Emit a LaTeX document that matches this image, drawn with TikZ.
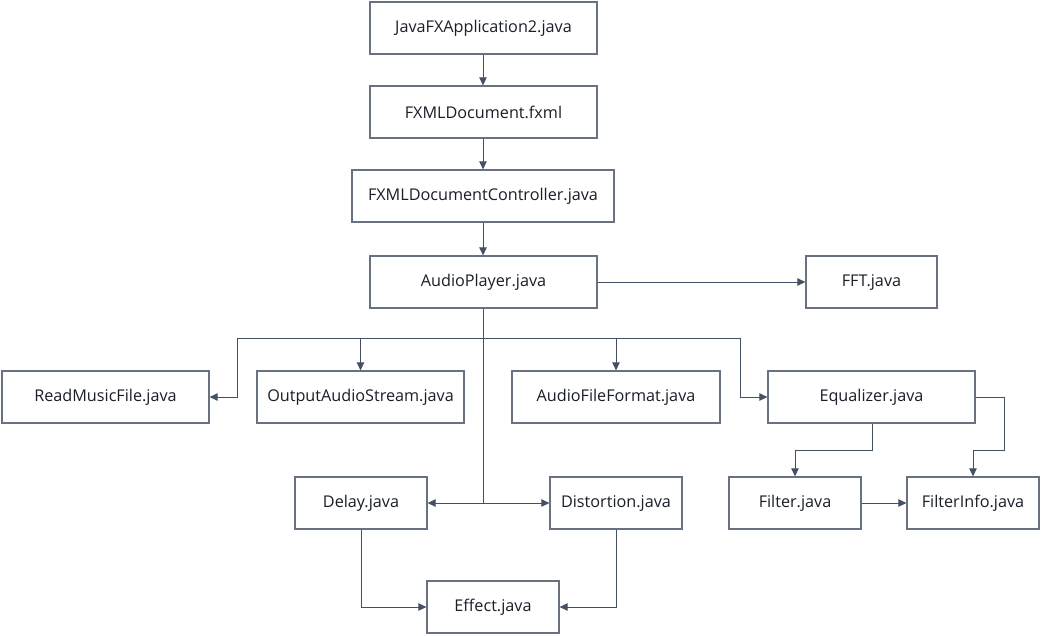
\documentclass[tikz,border=0pt]{standalone}
\usepackage{fontspec}
\setmainfont{Open Sans}
\usetikzlibrary{arrows.meta}
\definecolor{boxc}{RGB}{105,114,128}
\definecolor{linec}{RGB}{68,80,100}
\definecolor{txtc}{RGB}{25,30,40}
\begin{document}
\begin{tikzpicture}[x=1pt,y=-1pt,
  box/.style={draw=boxc, line width=1.3pt, fill=white, minimum height=52pt, inner sep=0pt, text=txtc, font=\fontsize{16.2}{19}\selectfont},
  conn/.style={draw=linec, line width=1pt},
  arr/.style={conn, -{Triangle[length=8pt,width=7.5pt]}}]
\useasboundingbox (0,0) rectangle (1041,635);
\fill[white] (0,0) rectangle (1041,635);
\node[box, minimum width=227pt] (app) at (483.5,28) {JavaFXApplication2.java};
\node[box, minimum width=227pt] (fxml) at (483.5,112) {FXMLDocument.fxml};
\node[box, minimum width=262pt] (ctrl) at (483,196) {FXMLDocumentController.java};
\node[box, minimum width=227pt] (ap) at (483.5,282) {AudioPlayer.java};
\node[box, minimum width=131pt] (fft) at (871.5,282) {FFT.java};
\node[box, minimum width=207pt] (rmf) at (105.5,397) {ReadMusicFile.java};
\node[box, minimum width=207pt] (oas) at (360.5,397) {OutputAudioStream.java};
\node[box, minimum width=208pt] (aff) at (616,397) {AudioFileFormat.java};
\node[box, minimum width=207pt] (eq) at (871.5,397) {Equalizer.java};
\node[box, minimum width=132pt] (delay) at (361,503) {Delay.java};
\node[box, minimum width=132pt] (dist) at (616,503) {Distortion.java};
\node[box, minimum width=132pt] (filter) at (795,503) {Filter.java};
\node[box, minimum width=132pt] (finfo) at (973,503) {FilterInfo.java};
\node[box, minimum width=132pt] (effect) at (493,607) {Effect.java};
\coordinate (bus) at (483,338);
\coordinate (busL) at (237,338);
\coordinate (busR) at (740,338);
\coordinate (fork) at (483,503);
\coordinate (eqturn) at (872,450);
\coordinate (eqR) at (1004,450);
\draw[arr] (app.south -| bus) -- (fxml.north -| bus);
\draw[arr] (fxml.south -| bus) -- (ctrl.north -| bus);
\draw[arr] (ctrl.south -| bus) -- (ap.north -| bus);
\draw[arr] (ap.east) -- (fft.west);
\draw[conn] (ap.south -| bus) -- (fork);
\draw[conn] (busL) -- (busR);
\draw[arr] (busL) |- (rmf.east);
\draw[arr] (oas.north |- bus) -- (oas.north);
\draw[arr] (aff.north |- bus) -- (aff.north);
\draw[arr] (busR) |- (eq.west);
\draw[arr] (fork) -- (delay.east);
\draw[arr] (fork) -- (dist.west);
\draw[arr] (delay.south) |- (effect.west);
\draw[arr] (dist.south) |- (effect.east);
\draw[arr] (eqturn |- eq.south) -- (eqturn) -| (filter.north);
\draw[arr] (eq.east) -| (eqR) -| (finfo.north);
\draw[arr] (filter.east) -- (finfo.west);
\end{tikzpicture}
\end{document}
